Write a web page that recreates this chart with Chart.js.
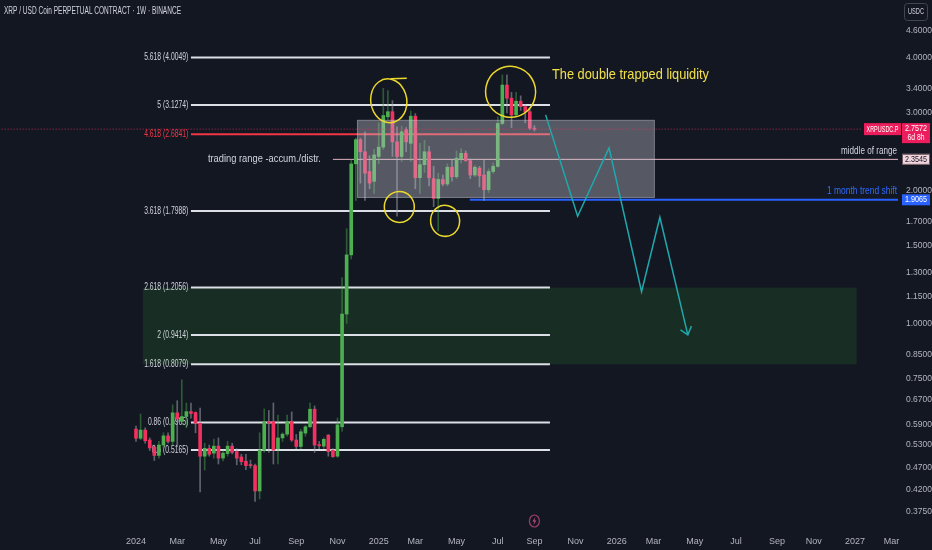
<!DOCTYPE html>
<html>
<head>
<meta charset="utf-8">
<style>
  html, body { margin: 0; padding: 0; background: #131722; }
  canvas { display: block; }
</style>
<script src="https://cdn.jsdelivr.net/npm/chart.js@4.4.1/dist/chart.umd.min.js"></script>
</head>
<body>
<canvas id="chart" width="932" height="550"></canvas>
<script>
// XRPUSDC.P weekly candles, week 0 = Jan 1 2024 ... week 87 = Sep 1 2025
const opens = [
  0.576, 0.549, 0.573, 0.544, 0.525, 0.502, 0.530, 0.556, 0.540, 0.627,
  0.600, 0.615, 0.631, 0.628, 0.594, 0.500, 0.521, 0.508, 0.527, 0.495,
  0.507, 0.527, 0.512, 0.498, 0.487, 0.478, 0.476, 0.417, 0.516, 0.599,
  0.599, 0.520, 0.550, 0.561, 0.599, 0.544, 0.526, 0.564, 0.583, 0.639,
  0.530, 0.527, 0.558, 0.516, 0.500, 0.583, 1.05, 1.43, 2.30, 2.61,
  2.45, 2.21, 2.10, 2.39, 2.51, 2.94, 3.02, 2.58, 2.39, 2.75,
  2.56, 2.95, 2.14, 2.29, 2.45, 2.13, 1.92, 2.12, 2.07, 2.26,
  2.15, 2.36, 2.43, 2.34, 2.17, 2.25, 2.17, 2.01, 2.21, 2.27,
  2.84, 3.47, 3.24, 2.97, 3.19, 3.10, 3.02, 2.77
];
const highs = [
  0.585, 0.623, 0.580, 0.550, 0.530, 0.540, 0.565, 0.565, 0.654, 0.668,
  0.745, 0.660, 0.660, 0.630, 0.643, 0.535, 0.530, 0.547, 0.550, 0.515,
  0.540, 0.535, 0.520, 0.505, 0.505, 0.490, 0.480, 0.565, 0.640, 0.635,
  0.660, 0.620, 0.565, 0.620, 0.630, 0.560, 0.575, 0.587, 0.660, 0.650,
  0.540, 0.550, 0.560, 0.520, 0.610, 1.27, 1.64, 2.35, 2.63, 2.63,
  2.72, 2.40, 2.48, 2.85, 3.41, 3.37, 3.20, 2.79, 2.80, 2.78,
  3.03, 2.99, 2.56, 2.60, 2.52, 2.27, 2.19, 2.17, 2.30, 2.35,
  2.46, 2.49, 2.46, 2.36, 2.28, 2.27, 2.35, 2.24, 2.31, 2.94,
  3.66, 3.66, 3.34, 3.34, 3.28, 3.13, 3.07, 2.81
];
const lows = [
  0.540, 0.545, 0.535, 0.515, 0.489, 0.495, 0.522, 0.535, 0.530, 0.526,
  0.590, 0.580, 0.610, 0.565, 0.415, 0.465, 0.500, 0.495, 0.480, 0.488,
  0.500, 0.506, 0.478, 0.478, 0.466, 0.470, 0.395, 0.400, 0.510, 0.510,
  0.480, 0.480, 0.540, 0.555, 0.540, 0.520, 0.520, 0.555, 0.580, 0.510,
  0.520, 0.520, 0.500, 0.497, 0.497, 0.570, 1.00, 1.40, 1.90, 2.08,
  1.90, 2.02, 1.97, 2.30, 2.48, 2.90, 2.39, 1.75, 2.33, 2.45,
  2.33, 2.02, 1.97, 2.20, 2.05, 1.84, 1.62, 2.05, 2.05, 2.10,
  2.13, 2.31, 2.33, 2.13, 2.15, 2.04, 1.90, 1.98, 2.19, 2.26,
  2.82, 3.00, 2.78, 2.94, 3.04, 2.85, 2.75, 2.73
];
const closes = [
  0.549, 0.573, 0.542, 0.522, 0.502, 0.530, 0.556, 0.540, 0.627, 0.607,
  0.615, 0.631, 0.625, 0.594, 0.500, 0.521, 0.505, 0.527, 0.495, 0.508,
  0.527, 0.510, 0.495, 0.486, 0.476, 0.476, 0.417, 0.516, 0.599, 0.594,
  0.516, 0.550, 0.561, 0.599, 0.544, 0.526, 0.568, 0.583, 0.639, 0.530,
  0.528, 0.546, 0.512, 0.499, 0.589, 1.05, 1.43, 2.30, 2.61, 2.45,
  2.19, 2.08, 2.41, 2.51, 2.96, 3.02, 2.58, 2.39, 2.72, 2.58,
  2.95, 2.14, 2.29, 2.45, 2.14, 1.92, 2.12, 2.07, 2.26, 2.15,
  2.37, 2.43, 2.34, 2.17, 2.26, 2.16, 2.01, 2.21, 2.27, 2.84,
  3.47, 3.24, 2.97, 3.19, 3.10, 3.02, 2.77, 2.7572
];

// fibonacci levels drawn on the chart
const fibLabels = ['5.618 (4.0049)', '5 (3.1274)', '4.618 (2.6841)', '3.618 (1.7988)',
  '2.618 (1.2056)', '2 (0.9414)', '1.618 (0.8079)', '0.86 (0.5965)', '0.5 (0.5165)'];
const fibPrices = [4.0049, 3.1274, 2.6841, 1.7988, 1.2056, 0.9414, 0.8079, 0.5965, 0.5165];

// other levels
const lastPrice = 2.7572;
const midRange = 2.3545;
const trendShift = 1.9065;
const rangeTop = 2.894, rangeBottom = 1.925;

// projected path (week, price)
const projWeeks = [89.45, 96.44, 103.3, 110.4, 114.4, 120.5];
const projPrices = [2.97, 1.75, 2.50, 1.18, 1.74, 0.942];
const arrowWeeks = [118.9, 120.5, 121.3];
const arrowPrices = [0.967, 0.942, 0.987];

// axes
const yTicks = [4.6, 4.0, 3.4, 3.0, 2.0, 1.7, 1.5, 1.3, 1.15, 1.0, 0.85, 0.75, 0.67, 0.59, 0.53, 0.47, 0.42, 0.375];
const xTickWeeks = [0, 9, 18, 26, 35, 44, 53, 61, 70, 79, 87, 96, 105, 113, 122, 131, 140, 148, 157, 165];
const xTickLabels = ['2024', 'Mar', 'May', 'Jul', 'Sep', 'Nov', '2025', 'Mar', 'May', 'Jul', 'Sep', 'Nov',
  '2026', 'Mar', 'May', 'Jul', 'Sep', 'Nov', '2027', 'Mar'];
const Y_MIN = 0.3437, Y_MAX = 5.41;

const FONT = "'Liberation Sans Narrow', 'Liberation Sans', Arial, sans-serif";
const UP = '#4caf50', DOWN = '#f23160';
Chart.defaults.font.family = FONT;

const isUp = opens.map((o, i) => closes[i] >= o);

function label(ctx, text, x, y, size, color, align, sx) {
  ctx.save();
  ctx.font = size + 'px ' + FONT;
  ctx.fillStyle = color;
  ctx.textAlign = align || 'left';
  ctx.textBaseline = 'middle';
  ctx.translate(x, y);
  ctx.scale(sx || 1, 1);
  ctx.fillText(text, 0, 0);
  ctx.restore();
}
function fit(ctx, text, size, width) {
  ctx.save();
  ctx.font = size + 'px ' + FONT;
  const w = ctx.measureText(text).width;
  ctx.restore();
  return width / w;
}

function hline(price, from, to, color, width, dash, order) {
  return {
    type: 'line',
    data: [{ x: from, y: price }, { x: to, y: price }],
    borderColor: color, borderWidth: width, borderDash: dash || [],
    pointRadius: 0, order: order || 5
  };
}

// hand drawn circles (week, price, radii in px)
const circles = [
  { w: 55.2, p: 3.196, rx: 18, ry: 22, tail: true },
  { w: 57.5, p: 1.837, rx: 15, ry: 15.5 },
  { w: 67.5, p: 1.708, rx: 14.5, ry: 15.5 },
  { w: 81.8, p: 3.35, rx: 25, ry: 25.5 }
];

const overlay = {
  id: 'overlay',
  beforeDatasetsDraw(chart) {
    const { ctx, scales: { x, y } } = chart;
    // target zone
    const gx0 = x.getPixelForValue(1.5), gx1 = x.getPixelForValue(157.4);
    const gy0 = y.getPixelForValue(fibPrices[4]), gy1 = y.getPixelForValue(fibPrices[6]);
    ctx.fillStyle = '#182d23';
    ctx.fillRect(gx0, gy0, gx1 - gx0, gy1 - gy0);
    // fib labels
    const sx = fit(ctx, fibLabels[0], 10, 44);
    const lx = x.getPixelForValue(11.4);
    fibLabels.forEach((t, i) => {
      label(ctx, t, lx, y.getPixelForValue(fibPrices[i]), 10, i === 2 ? '#f23645' : '#d1d4dc', 'right', sx);
    });
    const t1 = 'trading range -accum./distr.';
    label(ctx, t1, x.getPixelForValue(15.7), y.getPixelForValue(midRange), 11, '#d1d4dc', 'left', fit(ctx, t1, 11, 113));
  },
  afterDatasetDraw(chart, args) {
    if (args.index !== 0) return;
    const { ctx, scales: { x, y } } = chart;
    const bx0 = x.getPixelForValue(48.25), bx1 = x.getPixelForValue(113.3);
    const by0 = y.getPixelForValue(rangeTop), by1 = y.getPixelForValue(rangeBottom);
    ctx.save();
    ctx.fillStyle = 'rgba(196,198,208,0.38)';
    ctx.fillRect(bx0, by0, bx1 - bx0, by1 - by0);
    ctx.strokeStyle = 'rgba(210,212,222,0.3)';
    ctx.lineWidth = 1;
    ctx.strokeRect(bx0 + 0.5, by0 + 0.5, bx1 - bx0 - 1, by1 - by0 - 1);
    ctx.restore();
  },
  afterDatasetsDraw(chart) {
    const { ctx, chartArea: a, scales: { x, y } } = chart;
    // yellow circles
    ctx.save();
    ctx.strokeStyle = '#ecd82c';
    ctx.lineWidth = 1.5;
    circles.forEach(c => {
      const cx = x.getPixelForValue(c.w), cy = y.getPixelForValue(c.p);
      ctx.beginPath();
      ctx.ellipse(cx, cy, c.rx, c.ry, -0.15, -1.2, Math.PI * 2 - 1.0);
      ctx.stroke();
      if (c.tail) {
        ctx.beginPath();
        ctx.moveTo(cx + 2, cy - c.ry);
        ctx.lineTo(cx + c.rx, cy - c.ry - 0.5);
        ctx.stroke();
      }
    });
    ctx.restore();
    // annotation texts
    const t2 = 'The double trapped liquidity';
    label(ctx, t2, 552, 75, 15, '#f2e04a', 'left', fit(ctx, t2, 15, 157));
    const t3 = 'middle of range';
    label(ctx, t3, a.right - 1, y.getPixelForValue(midRange) - 8, 10, '#d1d4dc', 'right', fit(ctx, t3, 10, 56));
    const t4 = '1 month trend shift';
    label(ctx, t4, a.right - 1, y.getPixelForValue(trendShift) - 9, 10, '#2f6bff', 'right', fit(ctx, t4, 10, 70));
    const t5 = 'XRP / USD Coin PERPETUAL CONTRACT · 1W · BINANCE';
    label(ctx, t5, 4, 11, 10, '#d1d4dc', 'left', fit(ctx, t5, 10, 177));
    // lightning marker on time axis
    const ix = x.getPixelForValue(87), iy = a.bottom - 7;
    ctx.save();
    ctx.strokeStyle = '#9c3f6a';
    ctx.lineWidth = 1.2;
    ctx.beginPath();
    ctx.ellipse(ix, iy, 5, 6, 0, 0, Math.PI * 2);
    ctx.stroke();
    ctx.fillStyle = '#c2497e';
    ctx.beginPath();
    ctx.moveTo(ix + 1, iy - 4); ctx.lineTo(ix - 2, iy + 0.5); ctx.lineTo(ix, iy + 0.5);
    ctx.lineTo(ix - 1, iy + 4); ctx.lineTo(ix + 2, iy - 0.5); ctx.lineTo(ix, iy - 0.5);
    ctx.closePath();
    ctx.fill();
    ctx.restore();
  },
  afterDraw(chart) {
    const { ctx, chartArea: a, scales: { y } } = chart;
    const bx = a.right + 4, bw = 28;
    // symbol + last price
    const py = y.getPixelForValue(lastPrice);
    ctx.fillStyle = '#ec1d5c';
    ctx.fillRect(a.right - 34, py - 6, 37, 12);
    label(ctx, 'XRPUSDC.P', a.right - 15.5, py, 9, '#ffffff', 'center', fit(ctx, 'XRPUSDC.P', 9, 32));
    ctx.fillRect(bx, py - 6, bw, 20);
    label(ctx, lastPrice.toFixed(4), bx + bw / 2, py - 0.5, 9, '#ffffff', 'center', fit(ctx, '2.7572', 9, 22));
    label(ctx, '6d 8h', bx + bw / 2, py + 8.5, 9, '#ffffff', 'center', fit(ctx, '6d 8h', 9, 17));
    // middle of range
    const pm = y.getPixelForValue(midRange);
    ctx.fillStyle = '#f2d4dc';
    ctx.fillRect(bx, pm - 5.5, bw, 11);
    ctx.strokeStyle = '#6e5960';
    ctx.lineWidth = 1;
    ctx.strokeRect(bx + 0.5, pm - 5, bw - 1, 10);
    label(ctx, midRange.toFixed(4), bx + bw / 2, pm, 9, '#131722', 'center', fit(ctx, '2.3545', 9, 22));
    // trend shift
    const pt = y.getPixelForValue(trendShift);
    ctx.fillStyle = '#2962ff';
    ctx.fillRect(bx, pt - 5.5, bw, 11);
    label(ctx, trendShift.toFixed(4), bx + bw / 2, pt, 9, '#ffffff', 'center', fit(ctx, '1.9065', 9, 22));
    // currency box
    ctx.fillStyle = '#131722';
    ctx.strokeStyle = '#434651';
    ctx.beginPath();
    ctx.roundRect(904.5, 3.5, 23, 17, 3);
    ctx.fill();
    ctx.stroke();
    label(ctx, 'USDC', 916, 12, 9, '#d1d4dc', 'center', fit(ctx, 'USDC', 9, 16));
  }
};

const idx = opens.map((_, i) => i);
const fibLines = fibPrices.map((p, i) => hline(p, 12.0, 90.4, i === 2 ? '#f23645' : '#dcdfe6', 2));

new Chart(document.getElementById('chart'), {
  type: 'bar',
  data: {
    datasets: [
      {
        label: 'body',
        data: idx.map(i => ({ x: i, y: [opens[i], closes[i]] })),
        backgroundColor: isUp.map(u => u ? UP : DOWN),
        barThickness: 3, grouped: false, minBarLength: 1, order: 3
      },
      {
        label: 'wick',
        data: idx.map(i => ({ x: i, y: [lows[i], highs[i]] })),
        backgroundColor: isUp.map(u => u ? 'rgba(76,175,80,0.45)' : 'rgba(160,163,172,0.55)'),
        barThickness: 1, grouped: false, order: 4
      },
      ...fibLines,
      hline(midRange, 43.0, 170, '#e4b3c0', 1),
      hline(trendShift, 72.9, 170, '#2962ff', 2),
      hline(lastPrice, -30, 158.5, 'rgba(242,54,100,0.75)', 1, [1, 2], 1),
      {
        type: 'line',
        data: projWeeks.map((w, i) => ({ x: w, y: projPrices[i] })),
        borderColor: '#1fa9ad', borderWidth: 1.5, pointRadius: 0, order: 1
      },
      {
        type: 'line',
        data: arrowWeeks.map((w, i) => ({ x: w, y: arrowPrices[i] })),
        borderColor: '#1fa9ad', borderWidth: 1.5, pointRadius: 0, order: 1
      }
    ]
  },
  options: {
    responsive: false,
    animation: false,
    layout: { padding: 0 },
    plugins: { legend: { display: false }, tooltip: { enabled: false } },
    scales: {
      x: {
        type: 'linear',
        min: -29.7,
        max: 166.4,
        offset: false,
        grid: { display: false, drawTicks: false },
        border: { display: false },
        afterFit: s => { s.height = 22; s.paddingLeft = 0; s.paddingRight = 0; },
        afterBuildTicks: s => { s.ticks = xTickWeeks.map(v => ({ value: v })); },
        ticks: {
          autoSkip: false, maxRotation: 0, padding: 8,
          color: '#b2b5be', font: { size: 9 },
          callback: v => xTickLabels[xTickWeeks.indexOf(v)]
        }
      },
      y: {
        type: 'logarithmic',
        position: 'right',
        bounds: 'data',
        min: Y_MIN,
        max: Y_MAX,
        grid: { display: false, drawTicks: false },
        border: { display: false },
        afterFit: s => { s.width = 34; s.paddingTop = 0; s.paddingBottom = 0; },
        afterBuildTicks: s => {
          s.min = Y_MIN;
          s.max = Y_MAX;
          s.ticks = yTicks.map(v => ({ value: v }));
        },
        ticks: {
          autoSkip: false, padding: 8,
          color: '#b2b5be', font: { size: 8.5 },
          callback: v => Number(v).toFixed(4)
        }
      }
    }
  },
  plugins: [overlay]
});
</script>
</body>
</html>
